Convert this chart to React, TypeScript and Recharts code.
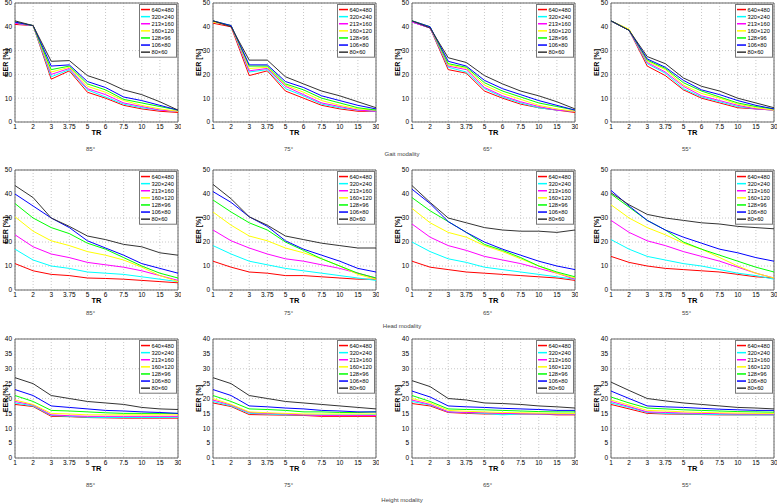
import React from 'react';
import { LineChart, Line, XAxis, YAxis, CartesianGrid, ReferenceArea, Legend } from 'recharts';

const TR = ['1', '2', '3', '3.75', '5', '6', '7.5', '10', '15', '30'];
const RES = ['640×480', '320×240', '213×160', '160×120', '128×96', '106×80', '80×60'];
const COLORS = ['#ff0000', '#00ffff', '#ff00ff', '#ffff00', '#00ff00', '#0000ff', '#333333'];
const ANGLES = ['85°', '75°', '65°', '55°'];
const MODALITIES = ['Gait modality', 'Head modality', 'Height modality'];
const TICKS_50 = [0, 10, 20, 30, 40, 50];
const TICKS_40 = [0, 5, 10, 15, 20, 25, 30, 35, 40];

// rows: 640x480, 320x240, 213x160, 160x120, 128x96, 106x80, 80x60
const GAIT_85 = [
  [41, 40.5, 18, 21.5, 12.5, 10, 7, 5.5, 4.5, 4],
  [41.5, 40.5, 19, 22, 13.5, 10.5, 7.5, 6, 5, 4.5],
  [41.5, 40.5, 20, 22.5, 14, 11.5, 8, 6.5, 5, 4.5],
  [42, 40.5, 21, 23, 15, 12.5, 9, 7, 5.5, 4.5],
  [42, 40.5, 22, 23.5, 16, 13.5, 9.5, 8, 6.5, 5],
  [42, 40.5, 23.5, 24, 17, 14.5, 10.5, 9, 7, 5],
  [42.5, 40.5, 25.5, 25.8, 19.5, 17, 13.5, 11.5, 8.5, 5],
];
const GAIT_75 = [
  [41.5, 40, 19.5, 21.5, 13, 10, 7, 5.5, 4.5, 4.5],
  [42, 40.5, 21, 22, 14, 11, 7.5, 6, 5, 4.5],
  [42, 40.5, 21.5, 22.5, 15, 11.5, 8, 6.5, 5, 4.5],
  [42, 40.5, 22.5, 23, 15.5, 12.5, 9, 7, 5.5, 5],
  [42.5, 40.5, 23.5, 23.5, 16, 13.5, 10, 8, 6, 5],
  [42.5, 40.5, 24, 24, 17, 14.5, 11, 9, 7, 5.5],
  [42.5, 40, 26, 26, 19, 16, 13, 11, 8.5, 6],
];
const GAIT_65 = [
  [42, 39.5, 22, 20.5, 13, 10, 7.5, 6, 5, 4],
  [42, 39.5, 23, 21, 14, 10.5, 8, 6, 5, 4.5],
  [42, 39.5, 23.5, 22, 14.5, 11, 8.5, 6.5, 5, 4.5],
  [42.5, 40, 24, 22.5, 15.5, 12, 9.5, 7, 5.5, 4.5],
  [42.5, 40, 24.5, 23, 16.5, 13, 10.5, 8, 6.5, 5],
  [42.5, 40, 25.5, 23.5, 17.5, 14, 11.5, 9, 7, 5],
  [42.5, 39.5, 27, 25, 19.5, 16, 13, 11, 8.5, 5.5],
];
const GAIT_55 = [
  [42.5, 38.5, 23.5, 19.5, 13.5, 10, 8, 6, 5.5, 5],
  [42.5, 38.5, 24.5, 20.5, 14, 10.5, 8.5, 6.5, 5.5, 5],
  [42.5, 38.5, 25, 21, 15, 11, 9, 7, 5.5, 5],
  [42.5, 39, 25.5, 22, 15.5, 12, 10, 7.5, 6, 5],
  [42.5, 38.5, 26, 22.5, 16.5, 13, 10.5, 8, 6.5, 5.5],
  [42.5, 38.5, 26.5, 23, 17.5, 13.5, 11.5, 9, 7, 5.5],
  [42.5, 38.5, 27.5, 24.5, 18.5, 15, 13, 10, 8, 6],
];

const HEAD_85 = [
  [11, 8, 6.5, 6, 5, 4.8, 4.5, 4, 3.5, 3],
  [17, 12.5, 10, 9, 7.5, 7, 6.5, 5.5, 4.5, 3.5],
  [23, 18, 15, 13.5, 11.5, 10.5, 9.5, 8, 6, 4],
  [30.5, 24.5, 20.5, 18.5, 16, 14.5, 12.5, 9.5, 6, 3.5],
  [36, 30, 26, 23.5, 19.5, 17, 13.5, 10, 7, 5],
  [40, 35, 30, 26, 20.5, 17.5, 14.5, 11, 9, 7],
  [43.5, 38.5, 30, 26.5, 22.5, 21, 19, 18, 15.5, 14.5],
];
const HEAD_75 = [
  [12, 9.5, 7.5, 7, 6, 6, 5.5, 5, 4.5, 4.5],
  [18.5, 15, 12, 10.5, 9, 8, 7, 6, 5, 4],
  [25, 20.5, 17.5, 15, 13, 12, 10.5, 9, 7, 5],
  [32.5, 27, 22.5, 20.5, 17.5, 15.5, 13, 10, 6.5, 4.5],
  [37.5, 32.5, 28, 25, 20, 16.5, 13, 10, 7, 5],
  [41, 36.5, 30.5, 26.5, 20.5, 17, 14.5, 12, 9, 7.5],
  [44, 38, 30.5, 27, 22.5, 21, 19.5, 18.5, 17.5, 17.5],
];
const HEAD_65 = [
  [12, 9.5, 8.5, 7.5, 7, 6.5, 6, 5.5, 5, 4],
  [20, 16, 13, 11.5, 9.5, 8.5, 7.5, 6.5, 5.5, 4.5],
  [27.5, 22, 18.5, 16.5, 14, 12.5, 11, 9, 7, 4.5],
  [34, 28, 24, 22, 18.5, 16, 13, 10, 7, 5],
  [38.5, 33, 28.5, 24, 19, 16.5, 13.5, 10, 7.5, 5.5],
  [42, 36, 28.5, 24, 20, 17, 14.5, 12, 10, 8.5],
  [43.5, 36.5, 30, 28, 26, 25, 24.5, 24.5, 24, 25],
];
const HEAD_55 = [
  [14, 11.5, 10, 9, 8.5, 8, 7.5, 6.5, 5.5, 5],
  [21, 17, 14, 12.5, 11, 10, 8.5, 7, 6, 4.5],
  [29, 24, 20.5, 18.5, 16, 14, 12, 9.5, 7, 5],
  [35.5, 30, 26, 23, 19.5, 17, 13.5, 10, 7, 5],
  [40, 34.5, 29, 25, 20, 17, 14.5, 12, 9.5, 7.5],
  [41.5, 35, 29, 25, 22, 19.5, 17, 15.5, 13.5, 12],
  [40.5, 35.5, 31.5, 30, 29, 28, 27.5, 26.5, 26, 25.5],
];

const HEIGHT_85 = [
  [18, 17.3, 14, 13.9, 13.6, 13.5, 13.4, 13.4, 13.4, 13.4],
  [18.5, 17.5, 14.3, 14, 13.7, 13.6, 13.6, 13.6, 13.6, 13.7],
  [19, 17.8, 14.5, 14.2, 14, 14, 14, 14, 14, 14],
  [19.5, 18, 15, 14.8, 14.5, 14.5, 14.5, 14.5, 14.5, 14.5],
  [21, 19, 16, 15.8, 15.5, 15.2, 15, 15, 15, 15],
  [23, 21, 17.5, 17, 16.5, 16, 15.8, 15.5, 15.3, 15],
  [27, 25, 21, 20, 19, 18.5, 18, 17, 16.5, 16.3],
];
const HEIGHT_75 = [
  [18.5, 17.3, 14.6, 14.5, 14.4, 14.3, 14, 14, 14, 14],
  [19, 17.5, 15, 14.8, 14.5, 14.5, 14.5, 14.5, 14.5, 14.6],
  [19.5, 17.8, 15.3, 15, 14.8, 14.5, 14.3, 14.3, 14.3, 14.3],
  [20, 18, 15.5, 15.2, 15, 14.8, 14.8, 14.8, 14.8, 14.8],
  [21, 19, 16.5, 16.3, 16, 15.5, 15.5, 15.3, 15.3, 15.5],
  [23, 21, 17.5, 17.2, 16.8, 16.5, 16, 15.8, 15.5, 15.5],
  [27, 25, 21, 20, 19, 18.5, 18, 17.5, 17, 16.5],
];
const HEIGHT_65 = [
  [18.3, 17.5, 15.3, 15, 14.8, 14.8, 14.8, 14.8, 14.5, 14.5],
  [19, 17.8, 15.5, 15.2, 15, 14.5, 14.8, 14.8, 14.8, 14.8],
  [19.5, 18, 15.5, 15.3, 15.2, 15, 14.9, 14.8, 14.8, 14.8],
  [20, 18.5, 16, 15.7, 15.5, 15.3, 15.2, 15.1, 15, 15],
  [21, 19, 16.5, 16.3, 16.2, 16, 15.8, 15.6, 15.5, 15.5],
  [22.5, 20.5, 17.5, 17.2, 17, 16.7, 16.5, 16.3, 16, 16],
  [26, 24, 20, 19.5, 18.5, 18.3, 18, 17.5, 17.2, 16.8],
];
const HEIGHT_55 = [
  [18, 16.5, 15, 14.8, 14.7, 14.6, 14.5, 14.5, 14.5, 14.5],
  [18.5, 17, 15.3, 15, 14.8, 14.7, 14.6, 14.5, 14.5, 14.5],
  [19, 17.3, 15.5, 15.3, 15.1, 15, 14.9, 14.8, 14.8, 14.8],
  [19.5, 17.8, 16, 15.8, 15.5, 15.3, 15.2, 15.1, 15, 15],
  [20.5, 18.5, 16.8, 16.5, 16.2, 16, 15.8, 15.6, 15.5, 15.4],
  [22.5, 20, 17.5, 17.2, 17, 16.7, 16.4, 16.2, 16, 16],
  [25.5, 22.7, 20, 19.2, 18.5, 18, 17.5, 17, 16.8, 16.5],
];

const PANELS = [
  [GAIT_85, GAIT_75, GAIT_65, GAIT_55],
  [HEAD_85, HEAD_75, HEAD_65, HEAD_55],
  [HEIGHT_85, HEIGHT_75, HEIGHT_65, HEIGHT_55],
];

const COL_LEFT = [15, 213, 412, 611];
const ROW_TOP = [3, 170, 339];
const PLOT_W = 163;
const PLOT_H = [119, 120, 119];
const Y_MAX = [50, 50, 40];
const Y_TICKS = [TICKS_50, TICKS_50, TICKS_40];
const SUB_Y = [149, 313, 485];
const MOD_Y = [154, 326, 500];

const FONT = '"Liberation Sans", Arial, sans-serif';
const ML = 24;
const MT = 4;
const MR = 3;
const XH = 16;
const LEG_W = 38;
const LEG_ROW = 7.1;

function LegendBox() {
  const h = RES.length * LEG_ROW + 4;
  return (
    <svg width={LEG_W} height={h} style={{ display: 'block', overflow: 'visible' }}>
      <rect x={0.5} y={0.5} width={LEG_W - 1} height={h - 1} fill="#fff" stroke="#777" strokeWidth={1} />
      {RES.map((name, i) => {
        const cy = 2 + LEG_ROW * i + LEG_ROW / 2;
        return (
          <g key={name}>
            <line x1={2} x2={11} y1={cy} y2={cy} stroke={COLORS[i]} strokeWidth={1.5} />
            <text x={12.5} y={cy} dominantBaseline="central" fontSize={5.7} fontFamily={FONT} fill="#000">
              {name}
            </text>
          </g>
        );
      })}
    </svg>
  );
}

function Panel({ rows, row, col }: { rows: number[][]; row: number; col: number }) {
  const plotLeft = COL_LEFT[col];
  const plotTop = ROW_TOP[row];
  const plotH = PLOT_H[row];
  const chartLeft = plotLeft - ML;
  const chartTop = plotTop - MT;
  const width = ML + PLOT_W + MR;
  const height = MT + plotH + XH;
  const data = TR.map((t, i) => {
    const o: any = { tr: t };
    rows.forEach((r, k) => {
      o['s' + k] = r[i];
    });
    return o;
  });
  const labelAbsX = Math.max(plotLeft - 15, 5);
  const eerX = labelAbsX - chartLeft;
  const eerY = MT + plotH / 2;
  const trX = ML + PLOT_W / 2;
  const trY = MT + plotH + 10.5;
  return (
    <div style={{ position: 'absolute', left: chartLeft, top: chartTop }}>
      <LineChart width={width} height={height} data={data} margin={{ top: MT, right: MR, bottom: 0, left: 0 }}>
        <CartesianGrid stroke="#c8c8c8" strokeDasharray="1 2" />
        <XAxis
          dataKey="tr"
          interval={0}
          tickLine={false}
          axisLine={false}
          tickSize={0}
          tickMargin={2}
          height={XH}
          tick={{ fontSize: 6.5, fill: '#000', fontFamily: FONT }}
          label={() => (
            <text x={trX} y={trY} textAnchor="middle" dominantBaseline="central" fontSize={7.5} fontWeight="bold" fontFamily={FONT} fill="#000">
              TR
            </text>
          )}
        />
        <YAxis
          domain={[0, Y_MAX[row]]}
          ticks={Y_TICKS[row]}
          width={ML}
          tickLine={false}
          axisLine={false}
          tickSize={0}
          tickMargin={3}
          allowDataOverflow
          tick={{ fontSize: 6.5, fill: '#000', fontFamily: FONT }}
          label={() => (
            <text
              x={eerX}
              y={eerY}
              textAnchor="middle"
              dominantBaseline="central"
              transform={`rotate(-90 ${eerX} ${eerY})`}
              fontSize={7}
              fontWeight="bold"
              fontFamily={FONT}
              fill="#000"
            >
              EER [%]
            </text>
          )}
        />
        <ReferenceArea x1="1" x2="30" y1={0} y2={Y_MAX[row]} fill="none" fillOpacity={0} stroke="#666" strokeWidth={1} />
        {rows.map((_, k) => (
          <Line
            key={k}
            type="linear"
            dataKey={'s' + k}
            name={RES[k]}
            stroke={COLORS[k]}
            strokeWidth={1}
            dot={false}
            activeDot={false}
            isAnimationActive={false}
          />
        ))}
        <Legend
          layout="horizontal"
          align="center"
          verticalAlign="middle"
          content={<LegendBox />}
          wrapperStyle={{ position: 'absolute', top: MT + 1, left: ML + PLOT_W - LEG_W - 1, width: LEG_W, height: 54 }}
        />
      </LineChart>
    </div>
  );
}

export default function App() {
  return (
    <div style={{ position: 'absolute', left: 0, top: 0, width: 777, height: 504, background: '#fff', fontFamily: FONT, overflow: 'hidden' }}>
      {PANELS.map((rowPanels, r) =>
        rowPanels.map((rows, c) => <Panel key={r + '-' + c} rows={rows} row={r} col={c} />)
      )}
      <svg width={777} height={504} style={{ position: 'absolute', left: 0, top: 0, pointerEvents: 'none' }}>
        {PANELS.map((_, r) =>
          ANGLES.map((a, c) => (
            <text key={r + a} x={COL_LEFT[c] + PLOT_W / 2 - 6} y={SUB_Y[r]} textAnchor="middle" dominantBaseline="central" fontSize={6} fontFamily={FONT} fill="#444">
              {a}
            </text>
          ))
        )}
        {MODALITIES.map((m, r) => (
          <text key={m} x={402} y={MOD_Y[r]} textAnchor="middle" dominantBaseline="central" fontSize={6} fontFamily={FONT} fill="#444">
            {m}
          </text>
        ))}
      </svg>
    </div>
  );
}
